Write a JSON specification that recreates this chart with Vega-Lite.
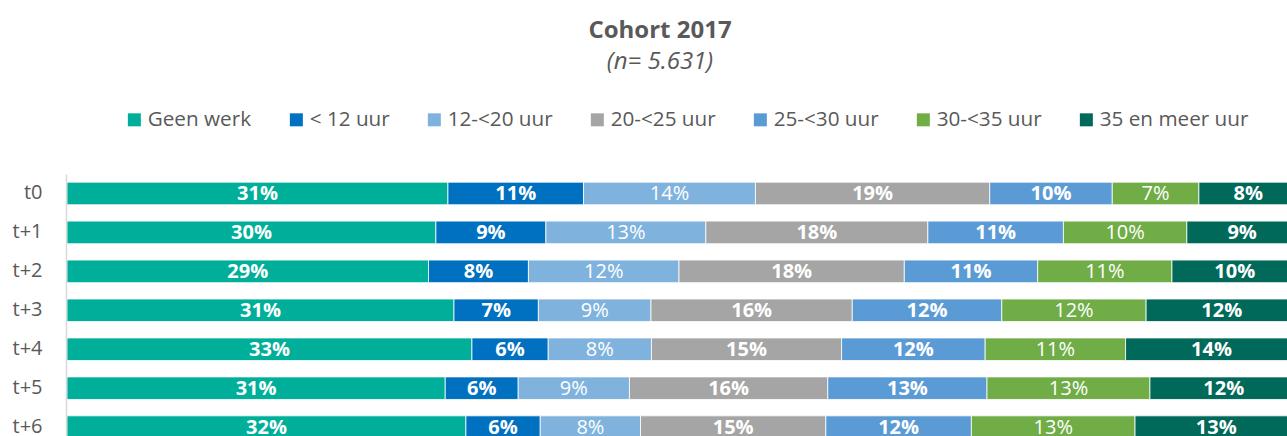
{
  "$schema": "https://vega.github.io/schema/vega-lite/v6.json",
  "autosize": "none",
  "width": 1220,
  "height": 262,
  "padding": {"left": 67, "top": 174, "right": 0, "bottom": 0},
  "background": "white",
  "title": {
    "text": "Cohort 2017",
    "subtitle": "(n= 5.631)",
    "anchor": "middle",
    "frame": "group",
    "dx": -17,
    "offset": 35,
    "font": "Open Sans",
    "fontSize": 24,
    "fontWeight": "bold",
    "color": "#595959",
    "subtitleFont": "Open Sans",
    "subtitleFontSize": 24,
    "subtitleFontStyle": "italic",
    "subtitleColor": "#595959",
    "subtitlePadding": 7
  },
  "config": {"view": {"stroke": null}},
  "data": {
    "values": [
      {"t": "t0", "cat": "Geen werk", "k": 1, "share": 0.3096},
      {"t": "t0", "cat": "< 12 uur", "k": 2, "share": 0.1102},
      {"t": "t0", "cat": "12-<20 uur", "k": 3, "share": 0.1397},
      {"t": "t0", "cat": "20-<25 uur", "k": 4, "share": 0.1904},
      {"t": "t0", "cat": "25-<30 uur", "k": 5, "share": 0.0996},
      {"t": "t0", "cat": "30-<35 uur", "k": 6, "share": 0.0704},
      {"t": "t0", "cat": "35 en meer uur", "k": 7, "share": 0.0801},
      {"t": "t+1", "cat": "Geen werk", "k": 1, "share": 0.2998},
      {"t": "t+1", "cat": "< 12 uur", "k": 2, "share": 0.0894},
      {"t": "t+1", "cat": "12-<20 uur", "k": 3, "share": 0.1300},
      {"t": "t+1", "cat": "20-<25 uur", "k": 4, "share": 0.1804},
      {"t": "t+1", "cat": "25-<30 uur", "k": 5, "share": 0.1102},
      {"t": "t+1", "cat": "30-<35 uur", "k": 6, "share": 0.1003},
      {"t": "t+1", "cat": "35 en meer uur", "k": 7, "share": 0.0899},
      {"t": "t+2", "cat": "Geen werk", "k": 1, "share": 0.2938},
      {"t": "t+2", "cat": "< 12 uur", "k": 2, "share": 0.0812},
      {"t": "t+2", "cat": "12-<20 uur", "k": 3, "share": 0.1224},
      {"t": "t+2", "cat": "20-<25 uur", "k": 4, "share": 0.1831},
      {"t": "t+2", "cat": "25-<30 uur", "k": 5, "share": 0.1084},
      {"t": "t+2", "cat": "30-<35 uur", "k": 6, "share": 0.1091},
      {"t": "t+2", "cat": "35 en meer uur", "k": 7, "share": 0.1020},
      {"t": "t+3", "cat": "Geen werk", "k": 1, "share": 0.3145},
      {"t": "t+3", "cat": "< 12 uur", "k": 2, "share": 0.0686},
      {"t": "t+3", "cat": "12-<20 uur", "k": 3, "share": 0.0915},
      {"t": "t+3", "cat": "20-<25 uur", "k": 4, "share": 0.1636},
      {"t": "t+3", "cat": "25-<30 uur", "k": 5, "share": 0.1215},
      {"t": "t+3", "cat": "30-<35 uur", "k": 6, "share": 0.1173},
      {"t": "t+3", "cat": "35 en meer uur", "k": 7, "share": 0.1230},
      {"t": "t+4", "cat": "Geen werk", "k": 1, "share": 0.3291},
      {"t": "t+4", "cat": "< 12 uur", "k": 2, "share": 0.0620},
      {"t": "t+4", "cat": "12-<20 uur", "k": 3, "share": 0.0839},
      {"t": "t+4", "cat": "20-<25 uur", "k": 4, "share": 0.1545},
      {"t": "t+4", "cat": "25-<30 uur", "k": 5, "share": 0.1167},
      {"t": "t+4", "cat": "30-<35 uur", "k": 6, "share": 0.1141},
      {"t": "t+4", "cat": "35 en meer uur", "k": 7, "share": 0.1397},
      {"t": "t+5", "cat": "Geen werk", "k": 1, "share": 0.3074},
      {"t": "t+5", "cat": "< 12 uur", "k": 2, "share": 0.0593},
      {"t": "t+5", "cat": "12-<20 uur", "k": 3, "share": 0.0904},
      {"t": "t+5", "cat": "20-<25 uur", "k": 4, "share": 0.1612},
      {"t": "t+5", "cat": "25-<30 uur", "k": 5, "share": 0.1294},
      {"t": "t+5", "cat": "30-<35 uur", "k": 6, "share": 0.1324},
      {"t": "t+5", "cat": "35 en meer uur", "k": 7, "share": 0.1199},
      {"t": "t+6", "cat": "Geen werk", "k": 1, "share": 0.3242},
      {"t": "t+6", "cat": "< 12 uur", "k": 2, "share": 0.0604},
      {"t": "t+6", "cat": "12-<20 uur", "k": 3, "share": 0.0815},
      {"t": "t+6", "cat": "20-<25 uur", "k": 4, "share": 0.1506},
      {"t": "t+6", "cat": "25-<30 uur", "k": 5, "share": 0.1183},
      {"t": "t+6", "cat": "30-<35 uur", "k": 6, "share": 0.1330},
      {"t": "t+6", "cat": "35 en meer uur", "k": 7, "share": 0.1320}
    ]
  },
  "encoding": {
    "y": {
      "field": "t",
      "type": "nominal",
      "sort": ["t0", "t+1", "t+2", "t+3", "t+4", "t+5", "t+6"],
      "scale": {"range": [0, 272.6], "paddingInner": 0.42, "paddingOuter": 0.21},
      "axis": {
        "title": null,
        "labelFont": "Open Sans",
        "labelFontSize": 20,
        "labelColor": "#595959",
        "ticks": false,
        "domainColor": "#D9D9D9",
        "domainWidth": 1.5,
        "offset": 1,
        "labelPadding": 24
      }
    },
    "order": {"field": "k", "type": "quantitative"}
  },
  "layer": [
    {
      "mark": {"type": "bar", "clip": true, "stroke": "white", "strokeWidth": 0.8},
      "encoding": {
        "x": {"field": "share", "type": "quantitative", "stack": "zero", "scale": {"domain": [0, 0.9915], "nice": false, "zero": true}, "axis": null},
        "color": {
          "field": "cat",
          "type": "nominal",
          "sort": ["Geen werk", "< 12 uur", "12-<20 uur", "20-<25 uur", "25-<30 uur", "30-<35 uur", "35 en meer uur"],
          "scale": {
            "domain": ["Geen werk", "< 12 uur", "12-<20 uur", "20-<25 uur", "25-<30 uur", "30-<35 uur", "35 en meer uur"],
            "range": ["#00AF99", "#0070C0", "#7FB3DE", "#A5A5A5", "#5B9BD5", "#70AD47", "#00695A"]
          },
          "legend": {
            "orient": "none",
            "legendX": 57,
            "legendY": -65,
            "direction": "horizontal",
            "title": null,
            "symbolType": "square",
            "symbolSize": 169,
            "symbolStrokeWidth": 0,
            "symbolOpacity": 1,
            "labelFont": "Open Sans",
            "labelFontSize": 20.7,
            "labelColor": "#595959",
            "labelOffset": 3,
            "columnPadding": 34,
            "padding": 0
          }
        }
      }
    },
    {
      "mark": {"type": "text", "font": "Open Sans", "fontSize": 20, "fontWeight": "bold", "color": "white", "baseline": "middle", "align": "center", "dy": 1},
      "encoding": {
        "x": {"field": "share", "type": "quantitative", "stack": "zero", "bandPosition": 0.5},
        "text": {"field": "share", "type": "quantitative", "format": ".0%"},
        "opacity": {"condition": {"test": "datum.cat == '12-<20 uur' || datum.cat == '30-<35 uur'", "value": 0}, "value": 1}
      }
    },
    {
      "mark": {"type": "text", "font": "Open Sans", "fontSize": 20, "fontWeight": "normal", "color": "white", "baseline": "middle", "align": "center", "dy": 1},
      "encoding": {
        "x": {"field": "share", "type": "quantitative", "stack": "zero", "bandPosition": 0.5},
        "text": {"field": "share", "type": "quantitative", "format": ".0%"},
        "opacity": {"condition": {"test": "datum.cat == '12-<20 uur' || datum.cat == '30-<35 uur'", "value": 1}, "value": 0}
      }
    }
  ]
}
